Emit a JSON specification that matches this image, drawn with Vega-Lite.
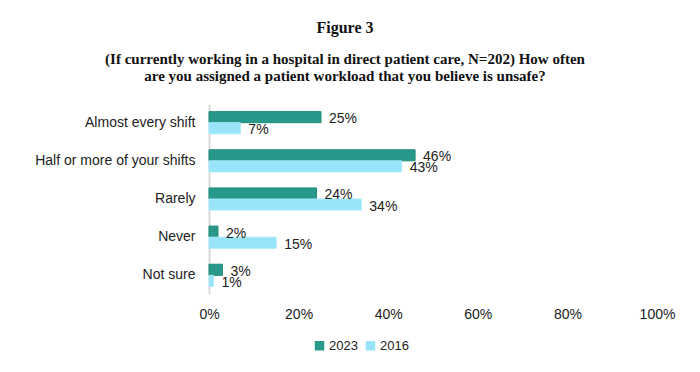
{
  "$schema": "https://vega.github.io/schema/vega-lite/v6.json",
  "autosize": {"type": "none"},
  "padding": {"left": 209, "top": 104, "right": 43, "bottom": 78},
  "width": 448,
  "height": 190,
  "background": "white",
  "view": {"stroke": null},
  "title": {
    "text": "Figure 3",
    "subtitle": ["(If currently working in a hospital in direct patient care, N=202) How often", "are you assigned a patient workload that you believe is unsafe?"],
    "anchor": "middle",
    "frame": "group",
    "dx": -88,
    "offset": 20,
    "font": "Liberation Serif",
    "fontSize": 16,
    "fontWeight": "bold",
    "color": "#111111",
    "subtitleFont": "Liberation Serif",
    "subtitleFontSize": 15,
    "subtitleFontWeight": "bold",
    "subtitleColor": "#111111",
    "subtitlePadding": 16,
    "subtitleLineHeight": 17
  },
  "data": {
    "values": [
      {"cat": "Almost every shift", "year": "2023", "value": 0.25},
      {"cat": "Almost every shift", "year": "2016", "value": 0.07},
      {"cat": "Half or more of your shifts", "year": "2023", "value": 0.46},
      {"cat": "Half or more of your shifts", "year": "2016", "value": 0.43},
      {"cat": "Rarely", "year": "2023", "value": 0.24},
      {"cat": "Rarely", "year": "2016", "value": 0.34},
      {"cat": "Never", "year": "2023", "value": 0.02},
      {"cat": "Never", "year": "2016", "value": 0.15},
      {"cat": "Not sure", "year": "2023", "value": 0.03},
      {"cat": "Not sure", "year": "2016", "value": 0.01}
    ]
  },
  "encoding": {
    "y": {
      "field": "cat", "type": "nominal", "sort": null,
      "scale": {"paddingInner": 0.42, "paddingOuter": 0.2},
      "axis": {"title": null, "ticks": false, "domainColor": "#d9d9d9", "domainWidth": 2, "labelPadding": 14,
               "labelFont": "Liberation Sans", "labelFontSize": 14, "labelColor": "#222222", "labelLimit": 300}
    },
    "yOffset": {"field": "year", "type": "nominal", "sort": ["2023", "2016"]},
    "x": {
      "field": "value", "type": "quantitative",
      "scale": {"domain": [0, 1]},
      "axis": {"title": null, "grid": false, "domain": false, "ticks": false, "values": [0, 0.2, 0.4, 0.6, 0.8, 1],
               "format": ".0%", "labelPadding": 13, "labelFlush": false,
               "labelFont": "Liberation Sans", "labelFontSize": 14, "labelColor": "#222222"}
    }
  },
  "layer": [
    {
      "mark": {"type": "bar", "strokeWidth": 1},
      "encoding": {
        "color": {
          "field": "year", "type": "nominal", "sort": ["2023", "2016"],
          "scale": {"domain": ["2023", "2016"], "range": ["#27998a", "#98e4fa"]},
          "legend": {"title": null, "orient": "none", "direction": "horizontal", "legendX": 104, "legendY": 235,
                     "symbolType": "square", "symbolSize": 90, "labelFont": "Liberation Sans", "labelFontSize": 13,
                     "labelColor": "#222222", "columnPadding": 6, "labelOffset": 3, "symbolStrokeWidth": 0}
        },
        "stroke": {
          "field": "year", "type": "nominal",
          "scale": {"domain": ["2023", "2016"], "range": ["#1f8a76", "#a8eafb"]},
          "legend": null
        }
      }
    },
    {
      "mark": {"type": "text", "align": "left", "dx": 8, "dy": 2, "font": "Liberation Sans", "fontSize": 14, "color": "#222222"},
      "encoding": {"text": {"field": "value", "type": "quantitative", "format": ".0%"}}
    }
  ]
}
